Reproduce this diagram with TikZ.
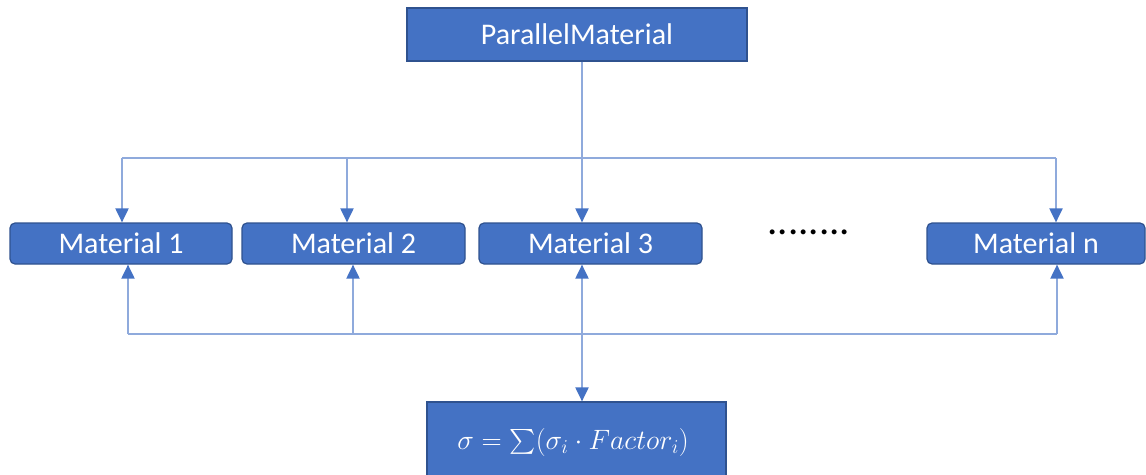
\RequirePackage{fix-cm}
\documentclass[tikz,border=0pt]{standalone}
\usepackage{exscale}
\usepackage{fontspec}
\setmainfont{Carlito}
\usetikzlibrary{arrows.meta}
\definecolor{boxfill}{HTML}{4472C4}
\definecolor{boxline}{HTML}{2F528F}
\definecolor{linkcol}{HTML}{8FAADC}
\definecolor{tipcol}{HTML}{4472C4}

\begin{document}
\begin{tikzpicture}[x=1pt,y=-1pt,
  block/.style={draw=boxline, line width=1.2pt, fill=boxfill, text=white,
    inner sep=0pt, font=\fontsize{30}{35}\selectfont},
  matbox/.style={block, rounded corners=5pt, minimum height=41pt},
  link/.style={draw=linkcol, line width=2pt},
  arr/.style={link, -{Triangle[width=13pt,length=14pt,color=tipcol,fill=tipcol]}},
  dblarr/.style={link, {Triangle[width=13pt,length=14pt,color=tipcol,fill=tipcol]}-{Triangle[width=13pt,length=14pt,color=tipcol,fill=tipcol]}}
]
\useasboundingbox (0,0) rectangle (1146,474);

% boxes
\node[block, minimum width=340pt, minimum height=53pt] (pm) at (577,34.5) {ParallelMaterial};
\node[matbox, minimum width=222pt] (m1) at (121,243.5) {Material 1};
\node[matbox, minimum width=223pt] (m2) at (353.5,243.5) {Material 2};
\node[matbox, minimum width=223pt] (m3) at (590.5,243.5) {Material 3};
\node[matbox, minimum width=218pt] (mn) at (1036,243.5) {Material n};
\node[font=\fontsize{41}{41}\selectfont, inner sep=0pt] (dots) at (809,232) {........};
\node[block, minimum width=299pt, minimum height=84pt] (fm) at (576.5,444) {};
\node[text=white, inner sep=0pt, font=\fontsize{28}{34}\selectfont] (fmtext) at (573,442)
  {$\sigma = \sum(\sigma_i \cdot Factor_i)$};

% distribution bus from the parent
\coordinate (t1) at (122,158);
\coordinate (t2) at (347,158);
\coordinate (tc) at (582,158);
\coordinate (t4) at (1056,158);
\draw[link] (t1) -- (t4);
\draw[arr] (t1) -- (t1 |- m1.north);
\draw[arr] (t2) -- (t2 |- m2.north);
\draw[arr] (tc |- pm.south) -- (tc |- m3.north);
\draw[arr] (t4) -- (t4 |- mn.north);

% collection bus towards the result
\coordinate (b1) at (128,334);
\coordinate (b2) at (353,334);
\coordinate (bc) at (582,334);
\coordinate (b4) at (1057,334);
\draw[link] (b1) -- (b4);
\draw[arr] (b1) -- (b1 |- m1.south);
\draw[arr] (b2) -- (b2 |- m2.south);
\draw[arr] (b4) -- (b4 |- mn.south);
\draw[dblarr] (bc |- m3.south) -- (bc |- fm.north);
\end{tikzpicture}
\end{document}
